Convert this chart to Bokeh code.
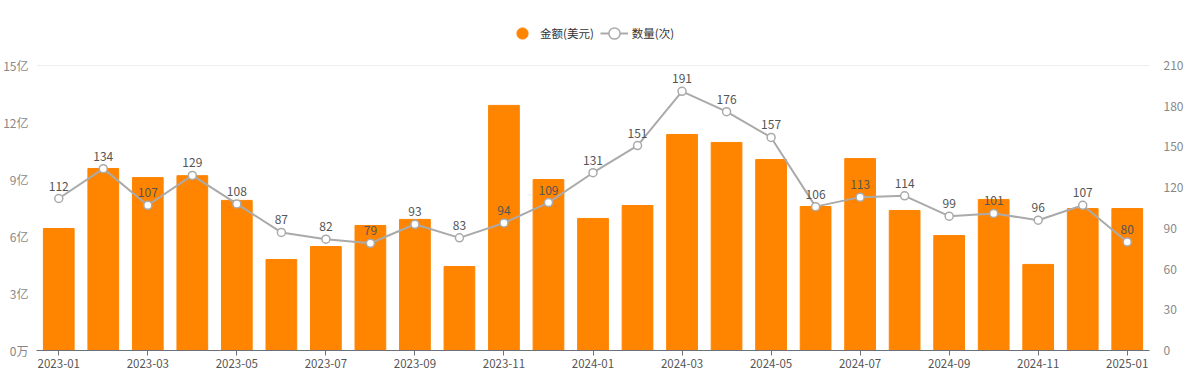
from bokeh.plotting import figure
from bokeh.models import (Range1d, LinearAxis, FixedTicker, ColumnDataSource,
                          Legend, LegendItem)
from bokeh.core.properties import value
from bokeh.embed import file_html
from bokeh.resources import INLINE

months = ["2023-01", "2023-02", "2023-03", "2023-04", "2023-05", "2023-06",
          "2023-07", "2023-08", "2023-09", "2023-10", "2023-11", "2023-12",
          "2024-01", "2024-02", "2024-03", "2024-04", "2024-05", "2024-06",
          "2024-07", "2024-08", "2024-09", "2024-10", "2024-11", "2024-12",
          "2025-01"]
amount_yi = [6.42, 9.58, 9.1, 9.2, 7.9, 4.79, 5.47, 6.58, 6.9, 4.42, 12.9, 9.0,
             6.95, 7.63, 11.37, 10.95, 10.05, 7.58, 10.1, 7.37, 6.05, 7.95, 4.53,
             7.47, 7.47]
counts = [112, 134, 107, 129, 108, 87, 82, 79, 93, 83, 94, 109, 131, 151, 191,
          176, 157, 106, 113, 114, 99, 101, 96, 107, 80]
left_ticks = [0, 3, 6, 9, 12, 15]
left_labels = ["0万", "3亿", "6亿", "9亿", "12亿", "15亿"]
right_ticks = [0, 30, 60, 90, 120, 150, 180, 210]
series_names = ["金额(美元)", "数量(次)"]

FONT = "Noto Sans CJK SC"
ORANGE = "#ff8400"
LINEC = "#aaaaaa"
AXC = "#6e7079"

# frame extends above the top tick so the legend fits inside it
FRAME_H = 331
AXIS_H = 285
left_top = 15 * FRAME_H / AXIS_H
right_top = 210 * FRAME_H / AXIS_H

idx = list(range(len(months)))
src = ColumnDataSource(dict(x=idx, amt=amount_yi, cnt=counts,
                            lab=[str(c) for c in counts]))

p = figure(width=1188, height=372, output_backend="svg", toolbar_location=None,
           x_range=Range1d(-0.5, len(months) - 0.5),
           y_range=Range1d(0, left_top),
           min_border_left=31, min_border_right=39, min_border_top=19,
           min_border_bottom=22, outline_line_color=None)
p.extra_y_ranges = {"cnt": Range1d(0, right_top),
                    # range far from the data: its swatch renderer stays off-frame
                    "swatch": Range1d(1000, 2000)}

# axes
p.xaxis.ticker = FixedTicker(ticks=idx[::2])
p.xaxis.major_label_overrides = {i: months[i] for i in idx}
p.xaxis.axis_line_color = AXC
p.xaxis.major_tick_line_color = AXC
p.xaxis.major_tick_out = 5
p.xaxis.major_tick_in = 0
p.xaxis.minor_tick_line_color = None
p.xaxis.major_label_standoff = 3
p.xaxis.major_label_text_font = FONT
p.xaxis.major_label_text_font_size = "11.5px"
p.xaxis.major_label_text_color = "#555555"

p.yaxis.ticker = FixedTicker(ticks=left_ticks)
p.yaxis.major_label_overrides = {t: l for t, l in zip(left_ticks, left_labels)}
p.yaxis.axis_line_color = None
p.yaxis.major_tick_line_color = None
p.yaxis.minor_tick_line_color = None
p.yaxis.major_label_standoff = 2
p.yaxis.major_label_text_font = FONT
p.yaxis.major_label_text_font_size = "12px"
p.yaxis.major_label_text_color = "#888888"

ra = LinearAxis(y_range_name="cnt", ticker=FixedTicker(ticks=right_ticks))
ra.axis_line_color = None
ra.major_tick_line_color = None
ra.minor_tick_line_color = None
ra.major_label_standoff = 8
ra.major_label_text_font = FONT
ra.major_label_text_font_size = "12px"
ra.major_label_text_color = "#888888"
p.add_layout(ra, "right")

p.xgrid.visible = False
p.ygrid.ticker = FixedTicker(ticks=[15])
p.ygrid.grid_line_color = "#eeeeee"

# bars
p.vbar(x="x", top="amt", width=0.69, source=src, color=ORANGE)

# line
ln = p.line(x="x", y="cnt", source=src, y_range_name="cnt",
            line_color=LINEC, line_width=2)
mk = p.scatter(x="x", y="cnt", source=src, y_range_name="cnt", size=8,
               fill_color="white", line_color=LINEC, line_width=1.5)
p.text(x="x", y="cnt", text="lab", source=src, y_range_name="cnt",
       text_align="center", text_baseline="bottom", y_offset=-8,
       text_font=value(FONT), text_font_size="12px", text_color="#555555")

# legend swatch for the bar series (a circle, drawn outside the frame)
d1 = p.scatter(x="x", y="amt", source=src, y_range_name="swatch",
               size=13, marker="circle", fill_color=ORANGE, line_color=ORANGE)
legend = Legend(items=[LegendItem(label=series_names[0], renderers=[d1]),
                       LegendItem(label=series_names[1], renderers=[ln, mk])],
                orientation="horizontal", location=(472, 303),
                label_text_font=FONT, label_text_font_size="11.5px",
                label_text_color="#333333", background_fill_alpha=0,
                border_line_color=None, glyph_width=28, glyph_height=28,
                spacing=6, label_standoff=4, padding=2, margin=0)
p.add_layout(legend, "center")

open("out.html", "w").write(file_html(p, INLINE))
